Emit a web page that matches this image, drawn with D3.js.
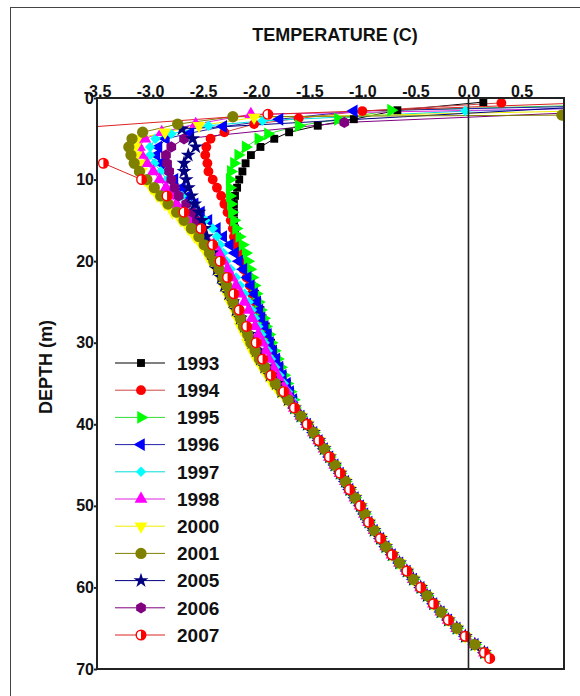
<!DOCTYPE html>
<html>
<head>
<meta charset="utf-8">
<script src="https://d3js.org/d3.v7.min.js"></script>
<style>
  body { margin: 0; background: #fff; }
  svg text { font-family: "Liberation Sans", Arial, sans-serif; font-weight: bold; fill: #111; }
</style>
</head>
<body>
<div id="chart"></div>
<script>
// ---- data: temperature (C) by depth (m) ----
const years  = ['1993', '1994', '1995', '1996', '1997', '1998', '2000', '2001', '2005', '2006', '2007'];
const colors = ['#000000', '#ff0000', '#00ff00', '#0000ff', '#00ffff', '#ff00ff', '#ffff00', '#808000', '#000080', '#800080', '#ff0000'];
const lineColors = ['#000000', '#cc4444', '#33dd33', '#2222aa', '#00dddd', '#dd22dd', '#eeee00', '#808000', '#000080', '#800080', '#dd2222'];
const shapes = ['square', 'circle', 'triRight', 'triLeft', 'diamond', 'triUp', 'triDown', 'bigCircle', 'star', 'hexagon', 'half'];

// near-surface points [temp, depth]
const top1993 = [[0.14, 0.5], [-0.67, 1.5], [-1.08, 2.6], [-1.42, 3.4], [-1.69, 4.2]];
const top1994 = [[0.31, 0.6], [-1.00, 1.6], [-1.60, 2.5], [-2.02, 3.2], [-2.30, 4.2]];
const top1995 = [[1.40, 0.8], [-0.73, 1.5], [-1.23, 2.6], [-1.60, 3.4], [-1.89, 4.4]];
const top1996 = [[1.50, 0.9], [-1.08, 1.6], [-1.78, 2.6], [-2.31, 3.5], [-2.62, 4.3]];
const top1997 = [[1.20, 1.2], [-0.03, 1.6], [-1.94, 2.8], [-2.45, 3.4], [-2.80, 4.4]];
const top1998 = [[1.00, 1.3], [-2.05, 2.0], [-2.57, 3.2], [-2.89, 4.2]];
const top2000 = [[1.40, 1.5], [-2.02, 2.4], [-2.54, 3.4], [-2.86, 4.2]];
const top2001 = [[0.88, 2.1], [-2.22, 2.3], [-2.74, 3.2], [-3.07, 4.2]];
const top2005 = [[1.20, 1.0], [-2.70, 3.8]];
const top2006 = [[1.00, 1.8], [-1.17, 3.0]];

// 5 .. 37 m, every metre
const upperDepths = [5, 6, 7, 8, 9, 10, 11, 12, 13, 14, 15, 16, 17, 18, 19, 20, 21, 22, 23, 24, 25, 26, 27, 28, 29, 30, 31, 32, 33, 34, 35, 36, 37];
const t1993 = [-1.83, -1.96, -2.05, -2.10, -2.13, -2.16, -2.18, -2.20, -2.21, -2.21, -2.21, -2.20, -2.18, -2.17, -2.15, -2.13, -2.10, -2.07, -2.04, -2.01, -1.99, -1.96, -1.94, -1.91, -1.89, -1.86, -1.84, -1.81, -1.78, -1.75, -1.71, -1.68, -1.65];
const t1994 = [-2.43, -2.47, -2.48, -2.46, -2.45, -2.41, -2.37, -2.33, -2.30, -2.27, -2.24, -2.22, -2.21, -2.19, -2.17, -2.15, -2.12, -2.09, -2.06, -2.04, -2.01, -1.99, -1.96, -1.94, -1.91, -1.89, -1.86, -1.83, -1.80, -1.77, -1.73, -1.70, -1.66];
const t1995 = [-1.98, -2.10, -2.17, -2.21, -2.24, -2.25, -2.25, -2.25, -2.24, -2.23, -2.21, -2.19, -2.16, -2.13, -2.10, -2.08, -2.06, -2.04, -2.02, -2.00, -1.98, -1.96, -1.93, -1.91, -1.88, -1.86, -1.83, -1.80, -1.77, -1.74, -1.71, -1.68, -1.65];
const t1996 = [-2.85, -2.92, -2.94, -2.90, -2.83, -2.77, -2.70, -2.64, -2.58, -2.52, -2.45, -2.37, -2.31, -2.25, -2.20, -2.16, -2.12, -2.08, -2.05, -2.02, -1.99, -1.97, -1.95, -1.92, -1.89, -1.87, -1.84, -1.81, -1.78, -1.75, -1.71, -1.68, -1.65];
const t1997 = [-2.95, -3.00, -3.00, -2.96, -2.90, -2.84, -2.77, -2.70, -2.63, -2.56, -2.48, -2.41, -2.37, -2.34, -2.31, -2.28, -2.24, -2.19, -2.15, -2.11, -2.07, -2.04, -2.01, -1.98, -1.95, -1.92, -1.89, -1.86, -1.82, -1.78, -1.74, -1.70, -1.66];
const t1998 = [-3.05, -3.10, -3.08, -3.03, -2.97, -2.91, -2.85, -2.80, -2.75, -2.69, -2.62, -2.55, -2.48, -2.40, -2.35, -2.31, -2.27, -2.23, -2.19, -2.15, -2.11, -2.07, -2.04, -2.01, -1.98, -1.94, -1.91, -1.88, -1.84, -1.80, -1.76, -1.71, -1.67];
const t2000 = [-3.12, -3.14, -3.13, -3.10, -3.08, -3.05, -2.99, -2.93, -2.86, -2.79, -2.71, -2.64, -2.58, -2.52, -2.47, -2.43, -2.38, -2.34, -2.31, -2.28, -2.25, -2.21, -2.18, -2.15, -2.11, -2.08, -2.04, -2.00, -1.95, -1.90, -1.85, -1.79, -1.72];
const t2001 = [-3.17, -3.20, -3.18, -3.15, -3.10, -3.03, -2.96, -2.90, -2.83, -2.75, -2.68, -2.61, -2.54, -2.49, -2.44, -2.40, -2.35, -2.31, -2.28, -2.25, -2.22, -2.18, -2.15, -2.12, -2.08, -2.05, -2.01, -1.97, -1.92, -1.87, -1.82, -1.76, -1.70];
const t2005 = [-2.60, -2.57, -2.64, -2.68, -2.68, -2.66, -2.64, -2.61, -2.58, -2.54, -2.51, -2.49, -2.47, -2.45, -2.42, -2.40, -2.37, -2.33, -2.30, -2.26, -2.22, -2.19, -2.15, -2.11, -2.07, -2.04, -2.00, -1.96, -1.92, -1.87, -1.81, -1.76, -1.70];
const t2006 = [-2.68, -2.80, -2.85, -2.84, -2.82, -2.80, -2.77, -2.73, -2.66, -2.60, -2.56, -2.53, -2.50, -2.46, -2.43, -2.39, -2.36, -2.32, -2.28, -2.24, -2.21, -2.17, -2.14, -2.11, -2.07, -2.03, -1.99, -1.95, -1.91, -1.86, -1.81, -1.75, -1.69];

// 38 .. 68 m, where all profiles fall together
const deepDepths = [38, 39, 40, 41, 42, 43, 44, 45, 46, 47, 48, 49, 50, 51, 52, 53, 54, 55, 56, 57, 58, 59, 60, 61, 62, 63, 64, 65, 66, 67, 68];
const deepTemps  = [-1.64, -1.58, -1.52, -1.46, -1.41, -1.36, -1.31, -1.26, -1.21, -1.16, -1.12, -1.07, -1.02, -0.98, -0.94, -0.89, -0.83, -0.78, -0.72, -0.65, -0.58, -0.52, -0.45, -0.39, -0.33, -0.26, -0.19, -0.11, -0.03, 0.06, 0.15];

// 2007 was logged every 2 m
const d2007 = [0.5, 2, 4, 6, 8, 10, 12, 14, 16, 18, 20, 22, 24, 26, 28, 30, 32, 34, 36, 38, 40, 42, 44, 46, 48, 50, 52, 54, 56, 58, 60, 62, 64, 66, 68, 68.7];
const t2007 = [1.30, -1.89, -4.04, -4.30, -3.44, -3.08, -2.84, -2.68, -2.52, -2.41, -2.34, -2.27, -2.21, -2.16, -2.09, -2.00, -1.94, -1.86, -1.74, -1.64, -1.52, -1.41, -1.31, -1.21, -1.12, -1.02, -0.94, -0.83, -0.72, -0.58, -0.45, -0.33, -0.19, -0.03, 0.15, 0.20];

const tops   = [top1993, top1994, top1995, top1996, top1997, top1998, top2000, top2001, top2005, top2006];
const uppers = [t1993, t1994, t1995, t1996, t1997, t1998, t2000, t2001, t2005, t2006];

const series = years.map((yr, i) => {
  let pts;
  if (yr === '2007') {
    pts = d2007.map((d, j) => ({t: t2007[j], d: d}));
  } else {
    pts = tops[i].map(p => ({t: p[0], d: p[1]}))
      .concat(upperDepths.map((d, j) => ({t: uppers[i][j], d: d})))
      .concat(deepDepths.map((d, j) => ({t: deepTemps[j], d: d})));
  }
  return {year: yr, color: colors[i], lineColor: lineColors[i], shape: shapes[i], points: pts};
});

// draw order so that the olive circles and half circles sit on top like in the figure
const drawOrder = ['1993', '1994', '1995', '1996', '1997', '1998', '2000', '2006', '2005', '2001', '2007'];

// ---- layout ----
const width = 580, height = 696;
const plot = {left: 97, right: 564, top: 98, bottom: 669};

const svg = d3.select('#chart').append('svg')
  .attr('width', width)
  .attr('height', height);

// page frame
svg.append('rect')
  .attr('x', 10.5).attr('y', 7.5)
  .attr('width', 620).attr('height', 720)
  .attr('fill', 'none').attr('stroke', '#444').attr('stroke-width', 1);

const x = d3.scaleLinear().domain([-3.5, 0.9]).range([plot.left, plot.right]);
const y = d3.scaleLinear().domain([0, 70]).range([plot.top, plot.bottom]);

svg.append('clipPath').attr('id', 'clip')
  .append('rect')
  .attr('x', plot.left).attr('y', plot.top)
  .attr('width', plot.right - plot.left).attr('height', plot.bottom - plot.top);

// marker drawing
function hexPath(r) {
  const pts = d3.range(6).map(k => {
    const a = Math.PI / 6 + k * Math.PI / 3;
    return [r * Math.cos(a), r * Math.sin(a)];
  });
  return 'M' + pts.map(p => p.join(',')).join('L') + 'Z';
}

function drawMarker(g, shape, color) {
  if (shape === 'half') {
    g.append('circle').attr('r', 4.8).attr('fill', '#fff').attr('stroke', color).attr('stroke-width', 1.4);
    g.append('path').attr('d', 'M0,-4.8A4.8,4.8 0 0 1 0,4.8Z').attr('fill', color);
    return;
  }
  let d, rot = 0;
  if (shape === 'square') d = d3.symbol(d3.symbolSquare, 62)();
  else if (shape === 'circle') d = d3.symbol(d3.symbolCircle, 76)();
  else if (shape === 'bigCircle') d = d3.symbol(d3.symbolCircle, 100)();
  else if (shape === 'diamond') { d = d3.symbol(d3.symbolSquare, 54)(); rot = 45; }
  else if (shape === 'star') d = d3.symbol(d3.symbolStar, 70)();
  else if (shape === 'hexagon') d = hexPath(5.6);
  else {
    d = d3.symbol(d3.symbolTriangle, 72)();
    rot = {triUp: 0, triRight: 90, triDown: 180, triLeft: -90}[shape];
  }
  g.append('path').attr('d', d).attr('fill', color)
    .attr('transform', rot ? `rotate(${rot})` : null);
}

const plotArea = svg.append('g').attr('clip-path', 'url(#clip)');

const line = d3.line().x(p => x(p.t)).y(p => y(p.d));

const ordered = drawOrder.map(yr => series.find(s => s.year === yr));

plotArea.append('g')
  .selectAll('path')
  .data(ordered)
  .join('path')
  .attr('d', s => line(s.points))
  .attr('fill', 'none')
  .attr('stroke', s => s.lineColor)
  .attr('stroke-width', 1);

ordered.forEach(s => {
  plotArea.append('g')
    .selectAll('g')
    .data(s.points)
    .join('g')
    .attr('transform', p => `translate(${x(p.t)},${y(p.d)})`)
    .each(function() { drawMarker(d3.select(this), s.shape, s.color); });
});

// zero line and frame of the plot
svg.append('line')
  .attr('x1', x(0)).attr('x2', x(0))
  .attr('y1', plot.top).attr('y2', plot.bottom)
  .attr('stroke', '#222').attr('stroke-width', 1.6);

svg.append('rect')
  .attr('x', plot.left).attr('y', plot.top)
  .attr('width', plot.right - plot.left).attr('height', plot.bottom - plot.top)
  .attr('fill', 'none').attr('stroke', '#222').attr('stroke-width', 2);

// axes
const xTicks = [-3.5, -3.0, -2.5, -2.0, -1.5, -1.0, -0.5, 0.0, 0.5];
const yTicks = [0, 10, 20, 30, 40, 50, 60, 70];

const xAxis = svg.append('g')
  .attr('transform', `translate(0,${plot.top})`)
  .call(d3.axisTop(x).tickValues(xTicks).tickFormat(d => d.toFixed(1)).tickSize(0).tickPadding(1));
xAxis.select('.domain').remove();
xAxis.selectAll('text').attr('font-size', '16px');

const yAxis = svg.append('g')
  .attr('transform', `translate(${plot.left},0)`)
  .call(d3.axisLeft(y).tickValues(yTicks).tickSize(3).tickPadding(0));
yAxis.select('.domain').remove();
yAxis.selectAll('line').attr('stroke', '#222').attr('stroke-width', 2);
yAxis.selectAll('text').attr('font-size', '16px');

// titles
svg.append('text')
  .attr('x', 335).attr('y', 41)
  .attr('text-anchor', 'middle')
  .attr('font-size', '18px')
  .text('TEMPERATURE (C)');

svg.append('text')
  .attr('transform', 'translate(52,367) rotate(-90)')
  .attr('text-anchor', 'middle')
  .attr('font-size', '18px')
  .text('DEPTH (m)');

// legend
const legend = svg.append('g')
  .selectAll('g')
  .data(series)
  .join('g')
  .attr('transform', (s, i) => `translate(141,${363 + i * 27.2})`);

legend.append('line')
  .attr('x1', -26).attr('x2', 24)
  .attr('stroke', s => s.lineColor).attr('stroke-width', 1);

legend.each(function(s) {
  drawMarker(d3.select(this).append('g'), s.shape, s.color);
});

legend.append('text')
  .attr('x', 36).attr('dy', '0.36em')
  .attr('font-size', '19px')
  .text(s => s.year);
</script>
</body>
</html>
